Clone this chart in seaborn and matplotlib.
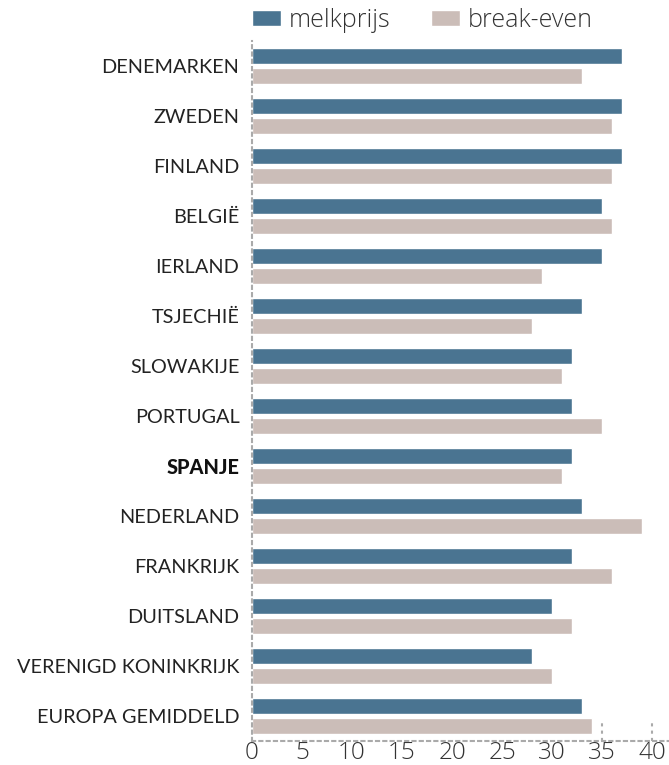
import matplotlib
matplotlib.use("Agg")
import matplotlib.pyplot as plt
import seaborn as sns
import pandas as pd

countries = ["DENEMARKEN", "ZWEDEN", "FINLAND", "BELGIË", "IERLAND", "TSJECHIË",
             "SLOWAKIJE", "PORTUGAL", "SPANJE", "NEDERLAND", "FRANKRIJK",
             "DUITSLAND", "VERENIGD KONINKRIJK", "EUROPA GEMIDDELD"]
melkprijs = [37, 37, 37, 35, 35, 33, 32, 32, 32, 33, 32, 30, 28, 33]
break_even = [33, 36, 36, 36, 29, 28, 31, 35, 31, 39, 36, 32, 30, 34]
series = ["melkprijs", "break-even"]
xticks = [0, 5, 10, 15, 20, 25, 30, 35, 40]

df = pd.DataFrame({
    "land": countries * 2,
    "waarde": melkprijs + break_even,
    "serie": [series[0]] * len(countries) + [series[1]] * len(countries),
})

sns.set_style("white")
plt.rcParams["font.family"] = ["Lato", "DejaVu Sans"]

fig = plt.figure(figsize=(6.69, 7.65), dpi=100)
ax = fig.add_axes([252 / 669, 24 / 765, 1 - 252 / 669, 700 / 765])

sns.barplot(data=df, y="land", x="waarde", hue="serie", order=countries,
            hue_order=series, palette=["#4a7491", "#cbbdb8"], width=0.8, gap=0.2,
            orient="h", ax=ax, legend=False, saturation=1)

ax.set_xlim(0, 41.7)
ax.set_ylim(13.5, -0.5)
ax.set_xlabel("")
ax.set_ylabel("")
ax.set_xticks(xticks)
ax.set_xticklabels([str(t) for t in xticks], fontsize=17.5, color="#333333",
                   family=["Open Sans", "DejaVu Sans"], fontweight="light")
ax.tick_params(axis="x", length=4, width=1, color="#aaaaaa", pad=0, direction="in")
ax.tick_params(axis="y", length=0, pad=9)
for lbl in ax.get_yticklabels():
    lbl.set_fontsize(14.3)
    lbl.set_color("#222222")
    if lbl.get_text() == "SPANJE":
        lbl.set_fontweight("black")
        lbl.set_color("#111111")

for s in ["top", "right"]:
    ax.spines[s].set_visible(False)
for s in ["left", "bottom"]:
    ax.spines[s].set_visible(True)
    ax.spines[s].set_color("#aaaaaa")
    ax.spines[s].set_linestyle((0, (1.5, 2)))
    ax.spines[s].set_linewidth(1.5)

for v in [35, 40]:
    ax.axvline(v, ymin=0, ymax=0.03, color="#aaaaaa", linestyle=(0, (1.5, 2)), linewidth=1.5)

from matplotlib.patches import Patch
handles = [Patch(facecolor="#4a7491"), Patch(facecolor="#cbbdb8")]
fig.legend(handles, series, loc="upper left", bbox_to_anchor=(252 / 669, 1 - 8 / 765),
           ncol=2, frameon=False, handlelength=1.17, handleheight=0.6,
           columnspacing=1.6, handletextpad=0.32, labelcolor="#333333",
           borderpad=0, borderaxespad=0,
           prop={"family": ["Open Sans", "DejaVu Sans"], "weight": "light", "size": 18})

fig.savefig("out.png", dpi=100)
